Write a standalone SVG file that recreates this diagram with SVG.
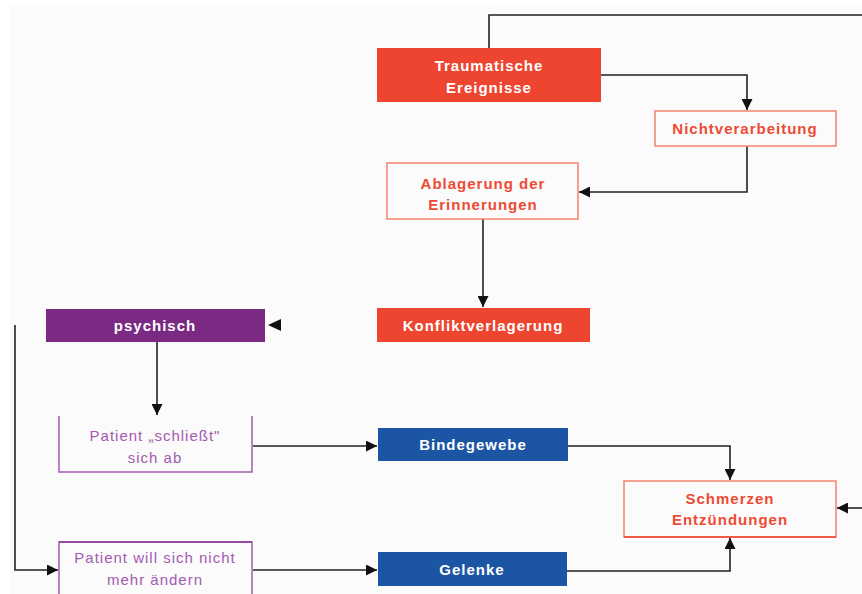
<svg xmlns="http://www.w3.org/2000/svg" width="862" height="594" viewBox="0 0 862 594">
<defs>
<marker id="ah" viewBox="0 0 10 10" refX="10" refY="5" markerWidth="11" markerHeight="11" markerUnits="userSpaceOnUse" orient="auto">
<path d="M0,0 L10,5 L0,10 Z" fill="#111"/>
</marker>
</defs>
<style>
.t{font-family:"Liberation Sans",Arial,sans-serif;font-size:15px;font-weight:bold;text-anchor:middle;letter-spacing:1px}
.w{fill:#ffffff}
.r{fill:#ee4a33}
.p{fill:#a35ab0;font-weight:normal}
.fr{fill:#ee4530}
.or{fill:#fbfbfb;stroke:#f4826f;stroke-width:1.5}
.fp{fill:#7b2a84}
.fb{fill:#1c55a3}
.op{fill:#fbfbfb;stroke:#a558b3;stroke-width:1.5}
.c{fill:none;stroke:#222;stroke-width:1.6}
</style>
<rect x="0" y="0" width="862" height="594" fill="#ffffff"/>
<rect x="10" y="5" width="852" height="589" fill="#fbfbfb"/>
<g id="connectors">
<path class="c" d="M489,48 V15 H862"/>
<path class="c" d="M601,75 H747 V110" marker-end="url(#ah)"/>
<path class="c" d="M747,146 V192 H579" marker-end="url(#ah)"/>
<path class="c" d="M483,219 V307" marker-end="url(#ah)"/>
<path d="M281,319 L268,325 L281,331 Z" fill="#111"/>
<path class="c" d="M157,342 V415" marker-end="url(#ah)"/>
<path class="c" d="M15,325 V570 H58" marker-end="url(#ah)"/>
<path class="c" d="M253,446 H377" marker-end="url(#ah)"/>
<path class="c" d="M568,446 H730 V480" marker-end="url(#ah)"/>
<path class="c" d="M253,570 H377" marker-end="url(#ah)"/>
<path class="c" d="M567,571 H730 V538" marker-end="url(#ah)"/>
<path class="c" d="M862,508 H837" marker-end="url(#ah)"/>
</g>
<g id="traumatische">
<rect class="fr" x="377" y="48" width="224" height="54"/>
<text class="t w" x="489" y="71">Traumatische</text>
<text class="t w" x="489" y="93">Ereignisse</text>
</g>
<g id="nichtverarbeitung">
<rect class="or" x="655" y="111" width="181" height="35"/>
<text class="t r" x="745" y="134">Nichtverarbeitung</text>
</g>
<g id="ablagerung">
<rect class="or" x="387" y="163" width="191" height="56"/>
<text class="t r" x="483" y="189">Ablagerung der</text>
<text class="t r" x="483" y="210">Erinnerungen</text>
</g>
<g id="konfliktverlagerung">
<rect class="fr" x="377" y="308" width="213" height="34"/>
<text class="t w" x="483" y="331">Konfliktverlagerung</text>
</g>
<g id="psychisch">
<rect class="fp" x="46" y="309" width="219" height="33"/>
<text class="t w" x="155" y="331">psychisch</text>
</g>
<g id="patient-schliesst">
<path d="M59,416 V472 H252 V416" fill="#fbfbfb" stroke="#a558b3" stroke-width="1.5"/>
<text class="t p" x="155" y="441">Patient „schließt"</text>
<text class="t p" x="155" y="463">sich ab</text>
</g>
<g id="bindegewebe">
<rect class="fb" x="378" y="428" width="190" height="33"/>
<text class="t w" x="473" y="450">Bindegewebe</text>
</g>
<g id="schmerzen">
<rect class="or" x="624" y="481" width="212" height="56"/>
<line x1="624" y1="537" x2="836" y2="537" stroke="#ee4530" stroke-width="1.5"/>
<text class="t r" x="730" y="504">Schmerzen</text>
<text class="t r" x="730" y="525">Entzündungen</text>
</g>
<g id="patient-will">
<rect class="op" x="59" y="542" width="193" height="60"/>
<line x1="59" y1="542" x2="252" y2="542" stroke="#8a3a98" stroke-width="1.5"/>
<text class="t p" x="155" y="563">Patient will sich nicht</text>
<text class="t p" x="155" y="585">mehr ändern</text>
</g>
<g id="gelenke">
<rect class="fb" x="378" y="552" width="189" height="34"/>
<text class="t w" x="472" y="575">Gelenke</text>
</g>
</svg>
